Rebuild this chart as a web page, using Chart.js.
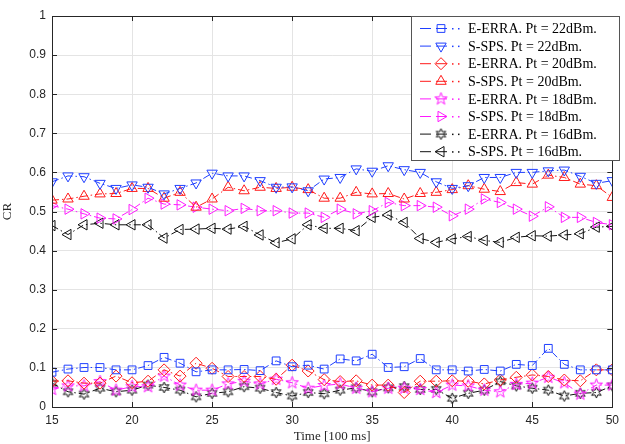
<!DOCTYPE html>
<html>
<head>
<meta charset="utf-8">
<title>CR vs time</title>
<script src="https://cdn.jsdelivr.net/npm/chart.js@4.4.1/dist/chart.umd.min.js"></script>
<style>
  html, body { margin: 0; padding: 0; background: #fff; }
  #wrap { width: 625px; height: 444px; }
</style>
</head>
<body>
<div id="wrap"><canvas id="crChart" width="625" height="444"></canvas></div>
<script>
// time axis [100 ms]
const timeSteps = [15, 16, 17, 18, 19, 20, 21, 22, 23, 24, 25, 26, 27, 28, 29, 30, 31, 32,
  33, 34, 35, 36, 37, 38, 39, 40, 41, 42, 43, 44, 45, 46, 47, 48, 49, 50];

const xTicks = [15, 20, 25, 30, 35, 40, 45, 50];
const yTicks = [0, 0.1, 0.2, 0.3, 0.4, 0.5, 0.6, 0.7, 0.8, 0.9, 1];

const seriesLabels = [
  "E-ERRA. Pt = 22dBm.", "S-SPS. Pt = 22dBm.",
  "E-ERRA. Pt = 20dBm.", "S-SPS. Pt = 20dBm.",
  "E-ERRA. Pt = 18dBm.", "S-SPS. Pt = 18dBm.",
  "E-ERRA. Pt = 16dBm.", "S-SPS. Pt = 16dBm."
];

const erra22 = [0.089, 0.097, 0.101, 0.101, 0.095, 0.095, 0.106, 0.127, 0.112, 0.090, 0.095, 0.095,
  0.096, 0.093, 0.118, 0.103, 0.107, 0.097, 0.123, 0.118, 0.135, 0.101, 0.103, 0.124,
  0.095, 0.095, 0.092, 0.096, 0.092, 0.109, 0.106, 0.150, 0.109, 0.095, 0.095, 0.095];
const sps22 = [0.576, 0.591, 0.589, 0.572, 0.559, 0.568, 0.562, 0.545, 0.559, 0.573, 0.598, 0.591,
  0.591, 0.579, 0.562, 0.563, 0.553, 0.583, 0.587, 0.609, 0.603, 0.617, 0.607, 0.600,
  0.576, 0.559, 0.566, 0.587, 0.587, 0.600, 0.600, 0.604, 0.606, 0.590, 0.572, 0.579];
const erra20 = [0.066, 0.067, 0.061, 0.061, 0.079, 0.062, 0.066, 0.095, 0.079, 0.112, 0.099, 0.078,
  0.078, 0.078, 0.071, 0.107, 0.092, 0.070, 0.065, 0.067, 0.056, 0.056, 0.037, 0.066,
  0.066, 0.067, 0.066, 0.059, 0.069, 0.076, 0.082, 0.078, 0.069, 0.067, 0.095, 0.095];
const sps20 = [0.529, 0.532, 0.539, 0.545, 0.546, 0.559, 0.559, 0.534, 0.549, 0.511, 0.532, 0.562,
  0.553, 0.562, 0.559, 0.562, 0.556, 0.534, 0.534, 0.549, 0.545, 0.546, 0.532, 0.546,
  0.549, 0.556, 0.566, 0.557, 0.551, 0.574, 0.570, 0.593, 0.587, 0.570, 0.566, 0.536];
const erra18 = [0.045, 0.054, 0.054, 0.065, 0.043, 0.052, 0.052, 0.079, 0.056, 0.043, 0.043, 0.059,
  0.066, 0.059, 0.071, 0.062, 0.048, 0.055, 0.059, 0.048, 0.039, 0.048, 0.048, 0.045,
  0.037, 0.056, 0.054, 0.043, 0.039, 0.058, 0.061, 0.076, 0.062, 0.033, 0.056, 0.056];
const sps18 = [0.515, 0.506, 0.494, 0.483, 0.481, 0.505, 0.534, 0.519, 0.517, 0.511, 0.506, 0.502,
  0.508, 0.502, 0.502, 0.496, 0.496, 0.485, 0.506, 0.494, 0.502, 0.523, 0.515, 0.515,
  0.511, 0.489, 0.506, 0.532, 0.523, 0.506, 0.488, 0.512, 0.485, 0.485, 0.472, 0.466];
const erra16 = [0.061, 0.039, 0.033, 0.048, 0.039, 0.043, 0.056, 0.050, 0.043, 0.026, 0.035, 0.039,
  0.052, 0.048, 0.037, 0.028, 0.037, 0.034, 0.043, 0.049, 0.039, 0.049, 0.052, 0.045,
  0.045, 0.022, 0.035, 0.043, 0.065, 0.054, 0.048, 0.043, 0.028, 0.035, 0.037, 0.054];
const sps16 = [0.464, 0.441, 0.466, 0.470, 0.466, 0.466, 0.466, 0.432, 0.454, 0.455, 0.457, 0.455,
  0.462, 0.440, 0.420, 0.430, 0.466, 0.457, 0.457, 0.451, 0.485, 0.491, 0.472, 0.431,
  0.421, 0.430, 0.436, 0.426, 0.421, 0.434, 0.438, 0.437, 0.440, 0.443, 0.460, 0.462];

const seriesValues = [erra22, sps22, erra20, sps20, erra18, sps18, erra16, sps16];

// outlined star markers (pentagram / hexagram) drawn on small canvases
function starMarker(points, outer, inner, color) {
  const size = Math.ceil(outer * 2 + 4);
  const c = document.createElement("canvas");
  c.width = size; c.height = size;
  const g = c.getContext("2d");
  const cx = size / 2, cy = size / 2;
  g.beginPath();
  for (let i = 0; i < points * 2; i++) {
    const r = i % 2 === 0 ? outer : inner;
    const a = -Math.PI / 2 + i * Math.PI / points;
    const px = cx + r * Math.cos(a), py = cy + r * Math.sin(a);
    if (i === 0) g.moveTo(px, py); else g.lineTo(px, py);
  }
  g.closePath();
  g.strokeStyle = color;
  g.lineWidth = 1;
  g.stroke();
  return c;
}

const BLUE = "#1f3fff", RED = "#ff1a1a", MAGENTA = "#ff1aff", BLACK = "#111111";

const seriesStyles = [
  { color: BLUE, pointStyle: "rect", rotation: 0, radius: 5.5 },
  { color: BLUE, pointStyle: "triangle", rotation: 180, radius: 6 },
  { color: RED, pointStyle: "rectRot", rotation: 0, radius: 6 },
  { color: RED, pointStyle: "triangle", rotation: 0, radius: 6 },
  { color: MAGENTA, pointStyle: starMarker(5, 6.5, 2.6, MAGENTA), rotation: 0, radius: 6 },
  { color: MAGENTA, pointStyle: "triangle", rotation: 90, radius: 6 },
  { color: BLACK, pointStyle: starMarker(6, 5.5, 2.7, BLACK), rotation: 0, radius: 6 },
  { color: BLACK, pointStyle: "triangle", rotation: -90, radius: 6 }
];

const DASH = [7, 3, 1.5, 3];

const datasets = seriesValues.map((vals, i) => {
  const st = seriesStyles[i];
  return {
    label: seriesLabels[i],
    data: vals.map((v, k) => ({ x: timeSteps[k], y: v })),
    borderColor: st.color,
    backgroundColor: "rgba(0,0,0,0)",
    borderWidth: 1,
    borderDash: DASH,
    pointStyle: st.pointStyle,
    pointRotation: st.rotation,
    pointRadius: st.radius,
    pointBorderColor: st.color,
    pointBackgroundColor: "rgba(0,0,0,0)",
    pointBorderWidth: 1,
    tension: 0
  };
});

// box around the axes with inward ticks, plus legend inside the top-right corner
const framePlugin = {
  id: "frame",
  afterDraw(chart) {
    const ctx = chart.ctx;
    const a = chart.chartArea;
    const xs = chart.scales.x, ys = chart.scales.y;
    ctx.save();
    ctx.strokeStyle = "#262626";
    ctx.lineWidth = 1;
    ctx.setLineDash([]);
    ctx.strokeRect(Math.round(a.left) + 0.5, Math.round(a.top) + 0.5,
      Math.round(a.right - a.left), Math.round(a.bottom - a.top));
    ctx.beginPath();
    xTicks.forEach(t => {
      const px = Math.round(xs.getPixelForValue(t)) + 0.5;
      ctx.moveTo(px, a.bottom); ctx.lineTo(px, a.bottom - 5);
      ctx.moveTo(px, a.top); ctx.lineTo(px, a.top + 5);
    });
    yTicks.forEach(t => {
      const py = Math.round(ys.getPixelForValue(t)) + 0.5;
      ctx.moveTo(a.left, py); ctx.lineTo(a.left + 5, py);
      ctx.moveTo(a.right, py); ctx.lineTo(a.right - 5, py);
    });
    ctx.stroke();

    // legend
    const bx = 411.5, by = 16.5, bw = 208, bh = 144;
    ctx.fillStyle = "#fff";
    ctx.fillRect(bx, by, bw, bh);
    ctx.strokeStyle = "#555";
    ctx.strokeRect(bx, by, bw, bh);
    ctx.font = '14px "Liberation Serif", "Times New Roman", serif';
    ctx.textBaseline = "middle";
    ctx.textAlign = "left";
    chart.data.datasets.forEach((ds, i) => {
      const y = 28.5 + i * 17.6;
      ctx.strokeStyle = ds.borderColor;
      ctx.lineWidth = 1;
      ctx.beginPath();
      ctx.moveTo(420, y); ctx.lineTo(431, y);
      ctx.moveTo(436, y); ctx.lineTo(447, y);
      ctx.stroke();
      ctx.fillStyle = ds.borderColor;
      ctx.fillRect(452, y - 0.5, 1.5, 1.5);
      ctx.fillRect(458, y - 0.5, 1.5, 1.5);
      ctx.fillStyle = "rgba(0,0,0,0)";
      Chart.helpers.drawPoint(ctx, {
        pointStyle: ds.pointStyle,
        rotation: ds.pointRotation,
        radius: ds.pointRadius,
        borderWidth: 1
      }, 441, y);
      ctx.fillStyle = "#000";
      ctx.fillText(ds.label, 468, y + 1);
    });
    ctx.restore();
  }
};

const tickFont = { family: '"Liberation Sans", Arial, sans-serif', size: 12 };
const titleFont = { family: '"Liberation Serif", "Times New Roman", serif', size: 13 };

new Chart(document.getElementById("crChart").getContext("2d"), {
  type: "line",
  data: { datasets: datasets },
  options: {
    responsive: false,
    animation: false,
    layout: { padding: { left: 0, right: 5, top: 16, bottom: 0 } },
    plugins: {
      legend: { display: false },
      tooltip: { enabled: false }
    },
    scales: {
      x: {
        type: "linear",
        min: 15,
        max: 50,
        afterBuildTicks(scale) { scale.ticks = xTicks.map(v => ({ value: v })); },
        afterFit(scale) { scale.height = 37; },
        grid: { color: "#e4e4e4", drawTicks: false },
        border: { display: false },
        ticks: { color: "#262626", font: tickFont, padding: 6 },
        title: { display: true, text: "Time [100 ms]", color: "#262626", font: titleFont, padding: { top: 0, bottom: 0 } }
      },
      y: {
        min: 0,
        max: 1,
        afterBuildTicks(scale) { scale.ticks = yTicks.map(v => ({ value: v })); },
        afterFit(scale) { scale.width = 52; },
        grid: { color: "#e4e4e4", drawTicks: false },
        border: { display: false },
        ticks: {
          color: "#262626",
          font: tickFont,
          padding: 6,
          callback: value => String(Number(value.toFixed(1)))
        },
        title: { display: true, text: "CR", color: "#262626", font: titleFont, padding: { top: 0, bottom: 4 } }
      }
    }
  },
  plugins: [framePlugin]
});
</script>
</body>
</html>
